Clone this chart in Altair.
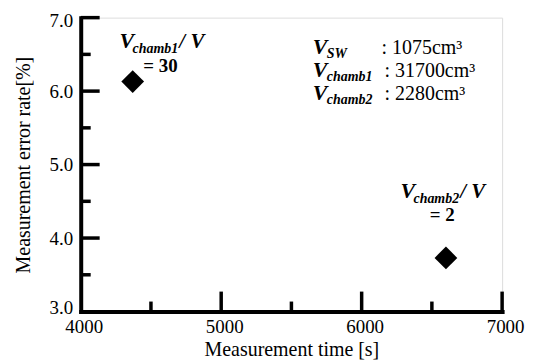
import altair as alt
import pandas as pd

# ---- data ----
TIME = [4370, 6600]
ERROR = [6.13, 3.73]

X_TICKS = [4000, 5000, 6000, 7000]
X_MAJOR = [5000, 6000, 7000]
X_MINOR = [4500, 5500, 6500]
Y_TICKS = [3.0, 4.0, 5.0, 6.0, 7.0]
Y_MAJOR = [4.0, 5.0, 6.0, 7.0]
Y_MINOR = [3.5, 4.5, 5.5, 6.5]

X_TITLE = "Measurement time [s]"
Y_TITLE = "Measurement error rate[%]"

LEGEND_SUBS = ["SW", "chamb1", "chamb2"]
LEGEND_VALUES = [": 1075cm³", ": 31700cm³", ": 2280cm³"]
ANNOT_SUBS = ["chamb1", "chamb2"]
ANNOT_RATIOS = ["= 30", "= 2"]

FONT = "Liberation Serif"
W, H = 423, 295

xs = alt.Scale(domain=[4000, 7000], nice=False, zero=False)
ys = alt.Scale(domain=[3.0, 7.0], nice=False, zero=False)

pts = pd.DataFrame({"time": TIME, "err": ERROR})

points = alt.Chart(pts).mark_point(
    shape="diamond", filled=True, size=520, color="black", opacity=1
).encode(
    x=alt.X("time:Q", scale=xs, axis=alt.Axis(
        values=X_TICKS, title=X_TITLE, format="d", grid=False, ticks=False, tickSize=0,
        domainColor="black", domainWidth=4, domainCap="square",
        labelFont=FONT, labelFontSize=19, labelColor="black", labelPadding=6, labelOffset=3,
        titleFont=FONT, titleFontSize=20, titleFontWeight="normal", titleColor="black",
        titlePadding=3, labelFlush=False)),
    y=alt.Y("err:Q", scale=ys, axis=alt.Axis(
        values=Y_TICKS, title=Y_TITLE, format=".1f", grid=False, ticks=False, tickSize=0,
        domainColor="black", domainWidth=4, domainCap="square",
        labelFont=FONT, labelFontSize=19, labelColor="black", labelPadding=8,
        labelFlush=True, labelFlushOffset=6,
        titleFont=FONT, titleFontSize=20, titleFontWeight="normal", titleColor="black",
        titlePadding=16)),
)

def yticks(vals, length):
    return alt.Chart(pd.DataFrame({"err": vals})).mark_rule(
        color="black", strokeWidth=3.5
    ).encode(y=alt.Y("err:Q", scale=ys), x=alt.value(0), x2=alt.value(length))

def xticks(vals, length):
    return alt.Chart(pd.DataFrame({"time": vals})).mark_rule(
        color="black", strokeWidth=3.5
    ).encode(x=alt.X("time:Q", scale=xs), y=alt.value(H), y2=alt.value(H - length))

def txt(s, x, y, size, style="normal", weight="normal", align="left"):
    return alt.Chart(pd.DataFrame({"t": [s]})).mark_text(
        font=FONT, fontSize=size, fontStyle=style, fontWeight=weight,
        align=align, baseline="alphabetic", color="black"
    ).encode(x=alt.value(x), y=alt.value(y), text="t:N")

texts = []
# annotations near points
ann_pos = [(39, 30), (321, 181)]
ratio_pos = [(80, 55), (363, 204)]
for (ax, ay), sub, (rx, ry), ratio in zip(ann_pos, ANNOT_SUBS, ratio_pos, ANNOT_RATIOS):
    texts.append(txt("V", ax, ay, 22, "italic", "bold"))
    texts.append(txt(sub, ax + 13, ay + 5, 14, "italic", "bold"))
    texts.append(txt("/ V", ax + 60, ay, 21, "italic", "bold"))
    texts.append(txt(ratio, rx, ry, 19, "normal", "bold", "center"))

# legend block
leg_base = [37, 60, 83]
val_x = [302, 305, 305]
for by, sub, val, vx in zip(leg_base, LEGEND_SUBS, LEGEND_VALUES, val_x):
    texts.append(txt("V", 233, by, 22, "italic", "bold"))
    texts.append(txt(sub, 247, by + 4, 14, "italic", "bold"))
    texts.append(txt(val, vx, by, 20))

chart = alt.layer(
    points,
    yticks(Y_MAJOR, 19), yticks(Y_MINOR, 10),
    xticks(X_MAJOR, 20), xticks(X_MINOR, 10),
    *texts
).properties(
    width=W, height=H,
    autosize=alt.AutoSizeParams(type="none"),
    padding={"left": 73, "top": 9, "right": 30, "bottom": 50},
).configure_view(stroke=None).configure(background="white")

chart.save("out.html", embed_options={"renderer": "svg", "actions": False})
